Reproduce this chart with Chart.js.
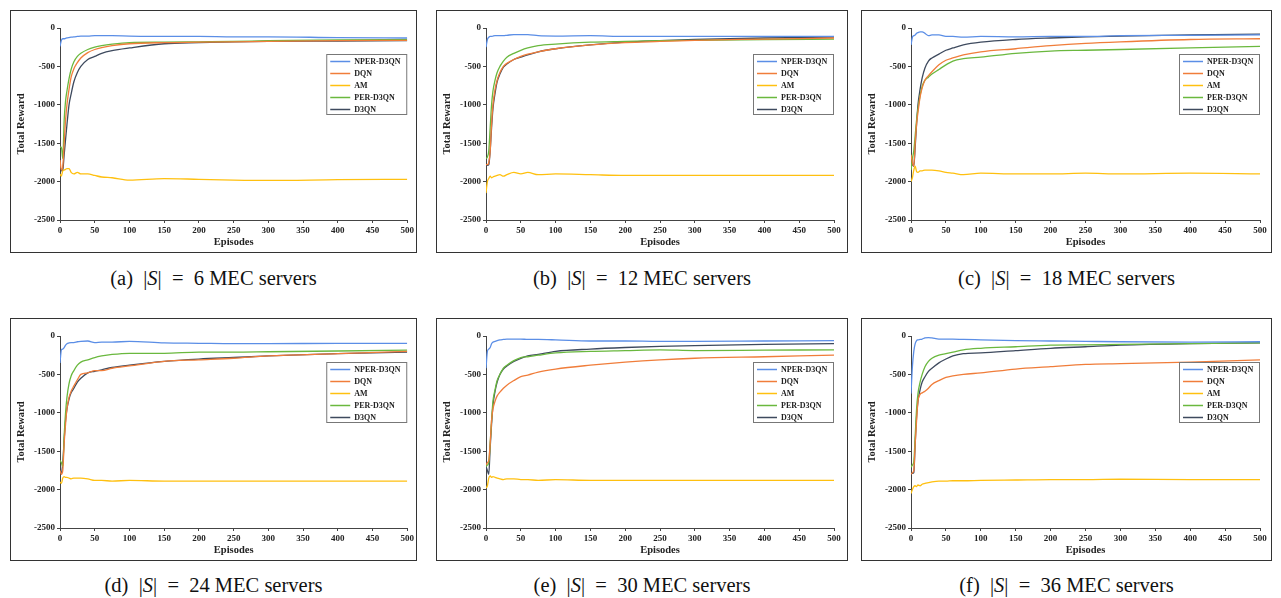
<!DOCTYPE html>
<html>
<head>
<meta charset="utf-8">
<script src="https://cdn.jsdelivr.net/npm/chart.js@4.4.0/dist/chart.umd.min.js"></script>
<style>
body{margin:0;background:#fff;width:1281px;height:598px;position:relative;overflow:hidden;font-family:"Liberation Serif","Times New Roman",serif;}
.panel{position:absolute;border:1px solid #333;background:#fff;}
.panel canvas{display:block;}
.cap{position:absolute;font-size:20.5px;line-height:22px;color:#111;text-align:center;white-space:nowrap;}
.cap i{font-style:italic;}
</style>
</head>
<body>

<div class="panel" style="left:10px;top:10px;width:405px;height:241px"><canvas id="c0" width="405" height="241"></canvas></div>
<div class="panel" style="left:436px;top:10px;width:410px;height:241px"><canvas id="c1" width="410" height="241"></canvas></div>
<div class="panel" style="left:861px;top:10px;width:409px;height:241px"><canvas id="c2" width="409" height="241"></canvas></div>
<div class="panel" style="left:10px;top:318px;width:405px;height:241px"><canvas id="c3" width="405" height="241"></canvas></div>
<div class="panel" style="left:436px;top:318px;width:410px;height:241px"><canvas id="c4" width="410" height="241"></canvas></div>
<div class="panel" style="left:861px;top:318px;width:409px;height:241px"><canvas id="c5" width="409" height="241"></canvas></div>

<div class="cap" style="left:10px;width:407px;top:267px">(a)&nbsp; |<i>S</i>|&ensp;=&ensp;6 MEC servers</div>
<div class="cap" style="left:436px;width:412px;top:267px">(b)&nbsp; |<i>S</i>|&ensp;=&ensp;12 MEC servers</div>
<div class="cap" style="left:861px;width:411px;top:267px">(c)&nbsp; |<i>S</i>|&ensp;=&ensp;18 MEC servers</div>
<div class="cap" style="left:10px;width:407px;top:574px">(d)&nbsp; |<i>S</i>|&ensp;=&ensp;24 MEC servers</div>
<div class="cap" style="left:436px;width:412px;top:574px">(e)&nbsp; |<i>S</i>|&ensp;=&ensp;30 MEC servers</div>
<div class="cap" style="left:861px;width:411px;top:574px">(f)&nbsp; |<i>S</i>|&ensp;=&ensp;36 MEC servers</div>

<script>
const episodes = [0,2,4,6,8,10,13,16,20,25,30,40,50,60,75,100,150,200,250,300,400,500];
const seriesNames = ["NPER-D3QN","DQN","AM","PER-D3QN","D3QN"];
const seriesColors = ["#5b8ee6","#f07d3a","#ffc010","#6ab83e","#3e4a5e"];
const xTicks = [0,50,100,150,200,250,300,350,400,450,500];
const yTicks = [0,-500,-1000,-1500,-2000,-2500];

// (a) |S| = 6
const nperA = [-240,-160,-140,-140,-135,-130,-125,-120,-115,-110,-105,-105,-100,-100,-100,-105,-110,-110,-115,-115,-125,-130];
const dqnA  = [-1720,-1850,-1800,-1500,-1200,-1000,-800,-640,-530,-450,-390,-320,-280,-255,-230,-205,-190,-185,-180,-175,-165,-160];
const amA   = [-1900,-1930,-1860,-1850,-1840,-1830,-1830,-1880,-1900,-1880,-1900,-1900,-1920,-1940,-1950,-1980,-1960,-1970,-1980,-1985,-1975,-1970];
const perA  = [-1550,-1550,-1700,-1200,-950,-820,-660,-540,-440,-370,-330,-280,-250,-230,-210,-190,-185,-180,-175,-165,-155,-150];
const d3qnA = [-1800,-1860,-1850,-1650,-1450,-1260,-1000,-860,-700,-580,-500,-410,-370,-330,-295,-260,-205,-190,-180,-175,-170,-165];

// (b) |S| = 12
const nperB = [-250,-150,-120,-110,-110,-105,-100,-100,-100,-100,-95,-85,-85,-85,-100,-105,-100,-110,-110,-110,-110,-110];
const dqnB  = [-1780,-1780,-1750,-1600,-1250,-1000,-800,-680,-580,-500,-460,-410,-370,-340,-310,-270,-220,-190,-175,-160,-145,-130];
const amB   = [-2150,-2000,-1960,-1930,-1950,-1940,-1930,-1920,-1910,-1930,-1910,-1880,-1900,-1880,-1910,-1900,-1910,-1920,-1920,-1920,-1920,-1920];
const perB  = [-1700,-1680,-1600,-1300,-1000,-820,-680,-580,-500,-430,-380,-330,-290,-260,-230,-210,-185,-175,-165,-160,-150,-145];
const d3qnB = [-1790,-1790,-1780,-1600,-1300,-1050,-850,-700,-600,-510,-470,-410,-380,-350,-310,-270,-220,-185,-165,-150,-130,-120];

// (c) |S| = 18
const nperC = [-220,-120,-100,-90,-70,-60,-50,-50,-70,-100,-90,-90,-110,-110,-120,-110,-115,-110,-110,-100,-95,-90];
const dqnC  = [-1650,-1750,-1800,-1500,-1250,-1100,-900,-780,-680,-620,-570,-480,-420,-390,-350,-310,-270,-230,-200,-180,-150,-140];
const amC   = [-2000,-1950,-1850,-1800,-1870,-1880,-1860,-1860,-1850,-1850,-1850,-1860,-1880,-1890,-1910,-1890,-1900,-1900,-1890,-1900,-1890,-1900];
const perC  = [-1850,-1700,-1600,-1400,-1200,-1050,-880,-760,-680,-640,-600,-540,-480,-430,-400,-380,-330,-300,-290,-280,-260,-240];
const d3qnC = [-1750,-1780,-1800,-1550,-1250,-1000,-800,-650,-520,-430,-390,-340,-290,-260,-220,-185,-150,-130,-115,-105,-90,-80];

// (d) |S| = 24
const nperD = [-350,-180,-170,-150,-120,-100,-90,-85,-85,-75,-70,-65,-85,-80,-80,-70,-90,-95,-100,-100,-95,-95];
const dqnD  = [-1750,-1800,-1750,-1400,-1150,-950,-800,-720,-650,-570,-500,-480,-450,-450,-420,-390,-330,-310,-290,-260,-230,-200];
const amD   = [-1900,-1920,-1850,-1830,-1840,-1840,-1850,-1860,-1850,-1850,-1850,-1860,-1880,-1880,-1890,-1880,-1890,-1890,-1890,-1890,-1890,-1890];
const perD  = [-1620,-1650,-1700,-1300,-1000,-800,-620,-520,-450,-380,-340,-310,-280,-260,-240,-225,-225,-210,-210,-205,-195,-185];
const d3qnD = [-1760,-1780,-1650,-1350,-1100,-950,-820,-740,-680,-600,-550,-480,-460,-440,-410,-380,-330,-300,-280,-260,-230,-210];

// (e) |S| = 30
const nperE = [-420,-200,-170,-150,-100,-80,-70,-60,-50,-45,-40,-40,-40,-45,-45,-50,-65,-65,-70,-70,-65,-60];
const dqnE  = [-1680,-1650,-1620,-1400,-1100,-950,-850,-780,-730,-680,-640,-580,-530,-510,-470,-430,-380,-340,-310,-290,-270,-250];
const amE   = [-1980,-1950,-1850,-1820,-1840,-1830,-1840,-1850,-1860,-1870,-1860,-1860,-1870,-1870,-1880,-1870,-1880,-1880,-1880,-1880,-1880,-1880];
const perE  = [-1700,-1680,-1650,-1400,-1100,-850,-700,-580,-500,-420,-380,-320,-280,-270,-250,-220,-200,-190,-180,-190,-185,-180];
const d3qnE = [-1700,-1750,-1800,-1450,-1150,-900,-720,-600,-500,-430,-390,-330,-290,-260,-240,-200,-170,-150,-135,-125,-110,-100];

// (f) |S| = 36
const nperF = [-750,-400,-200,-100,-60,-50,-45,-40,-25,-20,-25,-40,-40,-40,-45,-50,-60,-65,-70,-75,-80,-75];
const dqnF  = [-1800,-1780,-1750,-1400,-1100,-850,-760,-740,-720,-680,-630,-580,-540,-520,-500,-480,-430,-400,-370,-360,-340,-310];
const amF   = [-2050,-2000,-1960,-1950,-1960,-1940,-1950,-1930,-1920,-1910,-1900,-1890,-1890,-1885,-1885,-1880,-1875,-1870,-1870,-1865,-1870,-1870];
const perF  = [-1710,-1680,-1640,-1300,-950,-750,-600,-500,-400,-330,-290,-250,-230,-210,-180,-160,-140,-120,-115,-110,-100,-90];
const d3qnF = [-1790,-1790,-1780,-1400,-1050,-850,-700,-600,-530,-460,-420,-350,-300,-260,-230,-220,-190,-160,-140,-120,-100,-90];

const panels = [
  [nperA,dqnA,amA,perA,d3qnA],
  [nperB,dqnB,amB,perB,d3qnB],
  [nperC,dqnC,amC,perC,d3qnC],
  [nperD,dqnD,amD,perD,d3qnD],
  [nperE,dqnE,amE,perE,d3qnE],
  [nperF,dqnF,amF,perF,d3qnF]
];
const rightPad = [8,13,11,8,13,11];

const serif = "'Liberation Serif','Times New Roman',serif";

// legend box drawn inside the plot, top right
const boxLegend = {
  id:"boxLegend",
  afterDraw(chart){
    const ctx = chart.ctx;
    const a = chart.chartArea;
    const w = 81, h = 61;
    const bx = a.right - w, by = a.top + 26;
    ctx.save();
    ctx.fillStyle = "#fff";
    ctx.fillRect(bx, by, w, h);
    ctx.strokeStyle = "#777";
    ctx.lineWidth = 1;
    ctx.strokeRect(bx + 0.5, by + 0.5, w - 1, h - 1);
    ctx.font = "bold 8px " + serif;
    ctx.textBaseline = "middle";
    chart.data.datasets.forEach((ds, i) => {
      const y = by + 7.5 + i * 12;
      ctx.strokeStyle = ds.borderColor;
      ctx.lineWidth = 1.5;
      ctx.beginPath();
      ctx.moveTo(bx + 4, y);
      ctx.lineTo(bx + 24, y);
      ctx.stroke();
      ctx.fillStyle = "#222";
      ctx.fillText(ds.label, bx + 28, y + 0.5);
    });
    ctx.restore();
  }
};

function makeChart(idx){
  const series = panels[idx];
  const datasets = series.map((vals, i) => ({
    label: seriesNames[i],
    data: episodes.map((e, j) => ({x: e, y: vals[j]})),
    borderColor: seriesColors[i],
    borderWidth: 1.3,
    pointRadius: 0,
    cubicInterpolationMode: "monotone",
    fill: false,
    order: i
  }));

  new Chart(document.getElementById("c" + idx), {
    type: "line",
    data: { datasets: datasets },
    options: {
      responsive: false,
      animation: false,
      layout: { padding: { left: 0, top: 17, right: rightPad[idx], bottom: 0 } },
      plugins: { legend: { display: false }, tooltip: { enabled: false } },
      scales: {
        x: {
          type: "linear",
          min: 0, max: 500,
          afterFit: s => { s.height = 32; },
          afterBuildTicks: s => { s.ticks = xTicks.map(v => ({value: v})); },
          grid: { drawOnChartArea: false, tickLength: 3, color: "#444" },
          border: { color: "#444", width: 1 },
          ticks: { color: "#222", padding: 2, maxRotation: 0, callback: v => String(v), font: { family: serif, size: 9, weight: "bold" } },
          title: { display: true, text: "Episodes", color: "#222", padding: { top: 0, bottom: 3 }, font: { family: serif, size: 10.5, weight: "bold" } }
        },
        y: {
          min: -2500, max: 0,
          afterFit: s => { s.width = 49; },
          afterBuildTicks: s => { s.ticks = yTicks.map(v => ({value: v})); },
          grid: { drawOnChartArea: false, tickLength: 3, color: "#444" },
          border: { color: "#444", width: 1 },
          ticks: { color: "#222", padding: 2, callback: v => String(v), font: { family: serif, size: 9, weight: "bold" } },
          title: { display: true, text: "Total Reward", color: "#222", padding: { top: 4, bottom: 0 }, font: { family: serif, size: 10.5, weight: "bold" } }
        }
      }
    },
    plugins: [boxLegend]
  });
}

for (let i = 0; i < 6; i++) makeChart(i);
</script>
</body>
</html>
